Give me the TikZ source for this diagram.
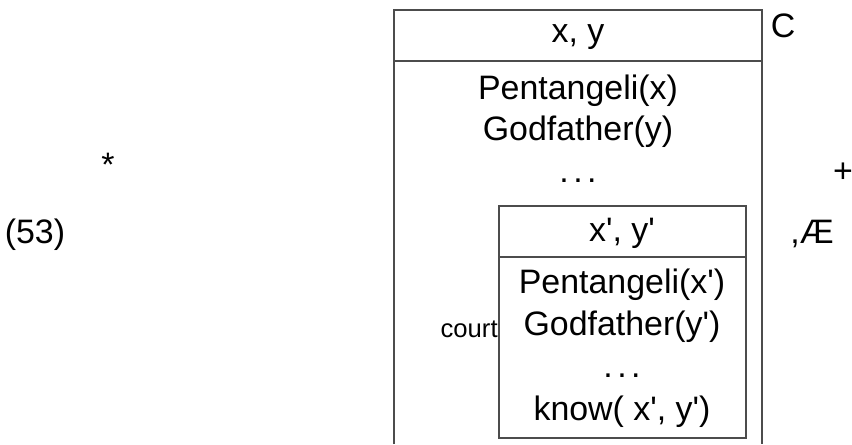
\documentclass[tikz,border=0pt]{standalone}
\usepackage{fontspec}
\setmainfont{Liberation Sans}[Ligatures=TeXOff]
\usetikzlibrary{positioning}
\tikzset{
  drsbox/.style={draw=black!70, line width=0.6pt},
  cond/.style={inner sep=0pt, font=\fontsize{19.3}{23}\selectfont},
  small/.style={inner sep=0pt, font=\fontsize{14.6}{17}\selectfont}
}
\newcommand{\drsdots}{.\kern2.5pt.\kern2.5pt.}

\begin{document}
\begin{tikzpicture}[x=0.02cm, y=-0.02cm]
    \useasboundingbox (0,0) rectangle (852,444);

    % outer box, open at the bottom
    \coordinate (otl) at (394,10);
    \coordinate (otr) at (762,10);
    \draw[drsbox] (394,444) -- (otl) -- (otr) -- (762,444);
    \draw[drsbox] (394,61) -- (762,61);

    \node[cond] (xy)   at (578,37)  {x, y};
    \node[cond] (pen)  at (578,91)  {Pentangeli(x)};
    \node[cond] (god)  at (578,132) {Godfather(y)};
    \node[cond] (dots) at (578,181) {\drsdots};
    \node[cond] (C)    at (783,26)  {C};

    % inner box
    \draw[drsbox] (499,206) rectangle (746,438);
    \draw[drsbox] (499,257) -- (746,257);

    \node[cond] (xyp)   at (622,233) {x', y'};
    \node[cond] (penp)  at (622,285) {Pentangeli(x')};
    \node[cond] (godp)  at (622,327) {Godfather(y')};
    \node[cond] (dotsp) at (622,376) {\drsdots};
    \node[cond] (know)  at (622,412) {know( x', y')};
    \node[small, anchor=east] (court) at (498,329) {court};

    % loose marks round the boxes
    \node[cond] (star)  at (108,165) {*};
    \node[cond] (plus)  at (843,173) {+};
    \node[cond] (num)   at (35,235)  {(53)};
    \node[cond] (ae)    at (812,234) {,Æ};
\end{tikzpicture}
\end{document}
